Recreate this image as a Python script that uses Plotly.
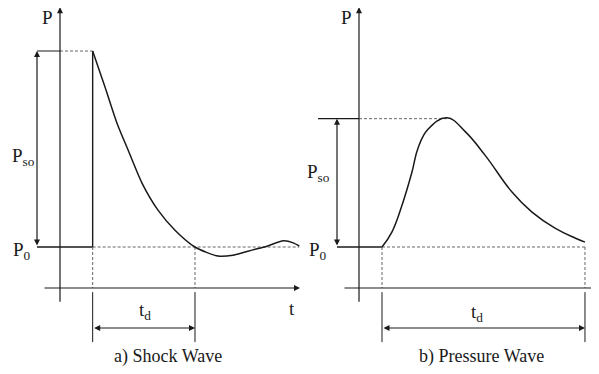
import plotly.graph_objects as go

# ---------------- data (arbitrary units: t in time units, P in pressure units) ----------------
P0 = 1.0
# a) shock wave
shock_ta = 0.98
shock_peak = 5.78
shock_td_end = 4.05
shock_t = [0.98, 1.35, 1.71, 2.04, 2.46, 2.94, 3.45, 4.05,
           4.74, 5.19, 5.79, 6.21, 6.70, 7.00, 7.18]
shock_p = [5.78, 4.90, 4.02, 3.37, 2.56, 1.90, 1.41, 1.0,
           0.78, 0.80, 0.93, 1.02, 1.15, 1.10, 1.02]
# b) pressure wave
press_ta = 0.69
press_peak_t = 2.64
press_peak = 4.13
press_end = 6.78
press_t = [0.69, 0.99, 1.29, 1.59, 1.77, 2.07, 2.64, 3.18, 3.78,
           4.59, 5.19, 5.88, 6.48, 6.78]
press_p = [1.0, 1.37, 2.02, 2.83, 3.41, 3.87, 4.15, 3.82, 3.24,
           2.34, 1.85, 1.46, 1.22, 1.12]

labels_a = {"P": "P", "Pso": "P<sub>so</sub>", "P0": "P<sub>0</sub>", "td": "t<sub>d</sub>",
            "t": "t", "title": "a) Shock Wave"}
labels_b = {"P": "P", "Pso": "P<sub>so</sub>", "P0": "P<sub>0</sub>", "td": "t<sub>d</sub>",
            "title": "b) Pressure Wave"}

# ---------------- geometry / style ----------------
OFF = 8          # page body margin
W, H = 599 - OFF, 374 - OFF
UX = 33.33       # px per time unit
UY = 41.0        # px per pressure unit
ORIGIN_Y = 288 - OFF
LEFT_O, RIGHT_O = 60 - OFF, 359 - OFF
SPLIT = 308.5 - OFF

INK = "#1a1a1a"
GRAY = "#666666"
FONT = "Liberation Serif"

y_rng = [-(H - ORIGIN_Y) / UY, ORIGIN_Y / UY]
xl_rng = [-LEFT_O / UX, (SPLIT - LEFT_O) / UX]
xr_rng = [-(RIGHT_O - SPLIT) / UX, (W - RIGHT_O) / UX]

fig = go.Figure()


def line(xs, ys, ax, color=INK, width=1.4, dash="solid", shape="linear", smooth=0.8):
    ln = dict(color=color, width=width, dash=dash, shape=shape)
    if shape == "spline":
        ln["smoothing"] = smooth
    fig.add_trace(go.Scatter(x=xs, y=ys, mode="lines", xaxis=ax[0], yaxis=ax[1],
                             line=ln, hoverinfo="skip", showlegend=False))


def arrow(x0, y0, x1, y1, ax, both=False, width=1.2, size=1.0):
    fig.add_annotation(x=x1, y=y1, ax=x0, ay=y0, xref=ax[0], yref=ax[1],
                       axref=ax[0], ayref=ax[1], text="", showarrow=True,
                       arrowhead=2, arrowsize=size, arrowwidth=width, arrowcolor=INK,
                       arrowside="end+start" if both else "end", standoff=0, startstandoff=0)


def label(x, y, txt, ax, size=19):
    fig.add_annotation(x=x, y=y, xref=ax[0], yref=ax[1], text=txt, showarrow=False,
                       font=dict(family=FONT, size=size, color=INK))


DASH = "3px,2px"
A = ("x", "y")
B = ("x2", "y2")
y_low_tick = -0.1
y_bot_tick = -1.32
y_td = -0.976

# ----- panel a -----
line([-0.69, 0], [shock_peak, shock_peak], A, width=1.2)
line([0, shock_ta], [shock_peak, shock_peak], A, color=GRAY, width=1, dash=DASH)
line([-0.69, shock_ta, shock_ta], [P0, P0, shock_peak], A, width=1.4)
line([shock_ta, 7.18], [P0, P0], A, color=GRAY, width=1, dash=DASH)
for tx in (shock_ta, shock_td_end):
    line([tx, tx], [P0, 0], A, color=GRAY, width=1, dash=DASH)
    line([tx, tx], [y_low_tick, y_bot_tick], A, color=INK, width=1)
line(shock_t, shock_p, A, width=1.5, shape="spline", smooth=0.7)
arrow(0, -0.37, 0, 6.85, A)                       # P axis
arrow(-0.51, 0, 7.2, 0, A)                         # t axis
arrow(-0.69, P0, -0.69, shock_peak, A, both=True)  # Pso
arrow(shock_ta, y_td, shock_td_end, y_td, A, both=True)  # td
label(-0.39, 6.6, labels_a["P"], A)
label(-1.1, 3.2, labels_a["Pso"], A)
label(-1.15, 0.9, labels_a["P0"], A)
label(2.55, -0.55, labels_a["td"], A)
label(6.96, -0.5, labels_a["t"], A)
label(3.24, -1.68, labels_a["title"], A, size=18)

# ----- panel b -----
line([-1.23, 0], [press_peak, press_peak], B, width=1.2)
line([0, press_peak_t], [press_peak, press_peak], B, color=GRAY, width=1, dash=DASH)
line([-0.66, press_ta], [P0, P0], B, width=1.4)
line([press_ta, press_end], [P0, P0], B, color=GRAY, width=1, dash=DASH)
for tx in (press_ta, press_end):
    line([tx, tx], [P0, 0], B, color=GRAY, width=1, dash=DASH)
    line([tx, tx], [y_low_tick, y_bot_tick], B, color=INK, width=1)
line(press_t, press_p, B, width=1.5, shape="spline", smooth=1.2)
arrow(0, -0.37, 0, 6.85, B)
arrow(-0.48, 0, 7.25, 0, B)
arrow(-0.66, P0, -0.66, press_peak, B, both=True)
arrow(press_ta, y_td, press_end, y_td, B, both=True)
label(-0.36, 6.6, labels_b["P"], B)
label(-1.2, 2.8, labels_b["Pso"], B)
label(-1.22, 0.9, labels_b["P0"], B)
label(3.54, -0.6, labels_b["td"], B)
label(3.69, -1.68, labels_b["title"], B, size=18)

ax_common = dict(visible=False, fixedrange=True)
fig.update_layout(
    width=W, height=H, margin=dict(l=0, r=0, t=0, b=0),
    paper_bgcolor="white", plot_bgcolor="white", showlegend=False,
    xaxis=dict(domain=[0, SPLIT / W], range=xl_rng, anchor="y", **ax_common),
    yaxis=dict(domain=[0, 1], range=y_rng, anchor="x", **ax_common),
    xaxis2=dict(domain=[SPLIT / W, 1], range=xr_rng, anchor="y2", **ax_common),
    yaxis2=dict(domain=[0, 1], range=y_rng, anchor="x2", **ax_common),
)

fig.write_html("out.html", config={"displayModeBar": False})
